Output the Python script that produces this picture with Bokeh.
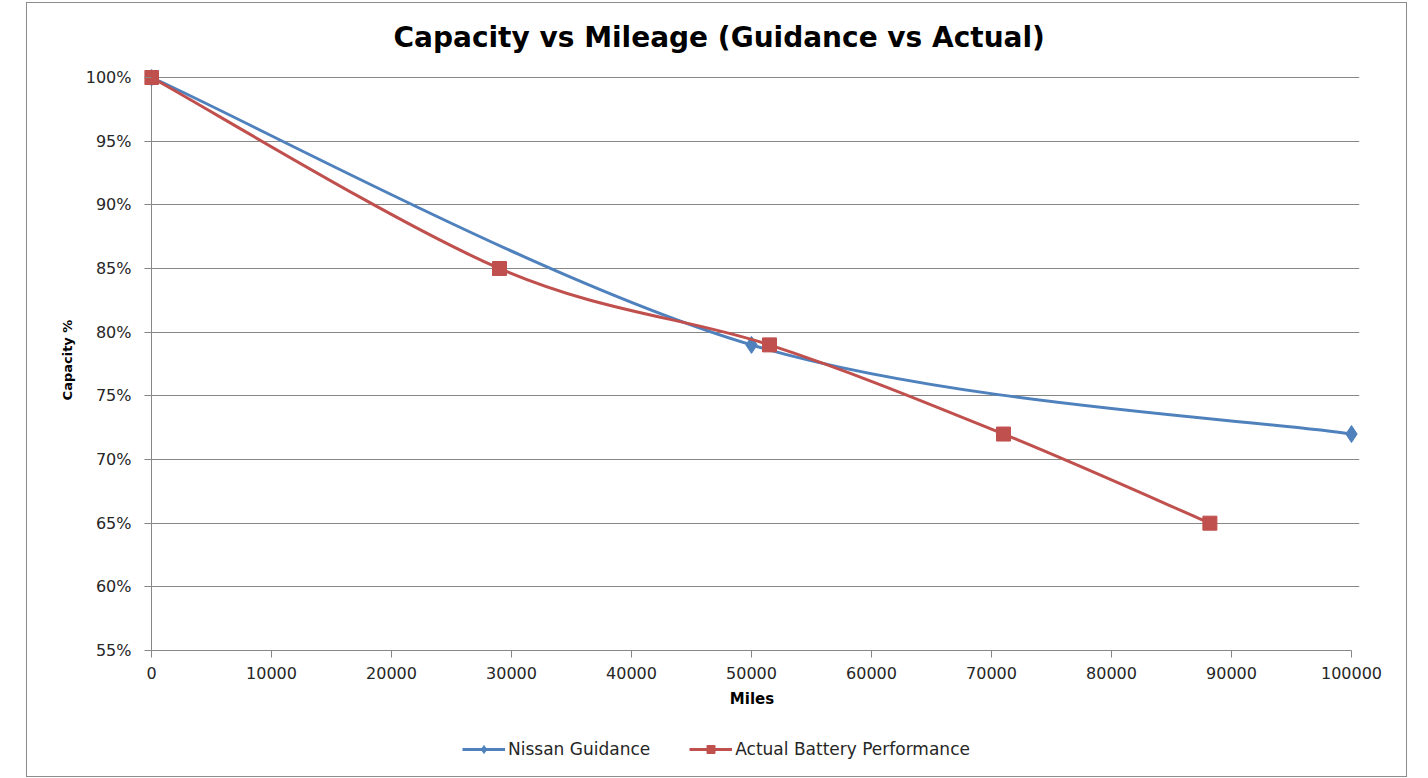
from bokeh.plotting import figure
from bokeh.layouts import column
from bokeh.models import (Range1d, SingleIntervalTicker, PrintfTickFormatter, BasicTickFormatter,
                          Legend, LegendItem, ColumnDataSource)
from bokeh.embed import file_html
from bokeh.resources import INLINE

# ---- data ----
nissan_miles = [0, 50000, 100000]
nissan_capacity = [100, 79, 72]
actual_miles = [0, 29000, 51500, 71000, 88200]
actual_capacity = [100, 85, 79, 72, 65]
series_names = ["Nissan Guidance", "Actual Battery Performance"]
title_text = "Capacity vs Mileage (Guidance vs Actual)"
x_min, x_max, x_step = 0, 100000, 10000
y_min, y_max, y_step = 55, 100, 5

BLUE = "#4F81BD"
RED = "#C0504D"
GRID = "#878787"
FONT = "DejaVu Sans"


def smooth_segments(xs, ys):
    """Catmull-Rom style bezier control points (Excel-like smoothing)."""
    n = len(xs)
    d = dict(x0=[], y0=[], x1=[], y1=[], cx0=[], cy0=[], cx1=[], cy1=[])
    for i in range(n - 1):
        xp, yp = (xs[i - 1], ys[i - 1]) if i > 0 else (xs[i], ys[i])
        xn2, yn2 = (xs[i + 2], ys[i + 2]) if i + 2 < n else (xs[i + 1], ys[i + 1])
        d["x0"].append(xs[i]); d["y0"].append(ys[i])
        d["x1"].append(xs[i + 1]); d["y1"].append(ys[i + 1])
        d["cx0"].append(xs[i] + (xs[i + 1] - xp) / 6.0)
        d["cy0"].append(ys[i] + (ys[i + 1] - yp) / 6.0)
        d["cx1"].append(xs[i + 1] - (xn2 - xs[i]) / 6.0)
        d["cy1"].append(ys[i + 1] - (yn2 - ys[i]) / 6.0)
    return ColumnDataSource(d)


# frame: 1200px for 100000 miles and 573px for 45%; pad a few px so edge markers are not cut
px_x = (x_max - x_min) / 1200.0
px_y = (y_max - y_min) / 573.0

p = figure(frame_width=1215, frame_height=581, output_backend="svg", toolbar_location=None,
           x_range=Range1d(x_min - 7 * px_x, x_max + 8 * px_x),
           y_range=Range1d(y_min, y_max + 8 * px_y),
           min_border_left=117, min_border_right=47, min_border_top=59, min_border_bottom=77)
p.outline_line_color = None
p.background_fill_color = "white"
p.border_fill_color = "white"

# title
p.title.text = title_text
p.title.align = "left"
p.title.offset = 249
p.title.standoff = 31
p.title.text_font = FONT
p.title.text_font_style = "bold"
p.title.text_font_size = "28px"
p.title.text_color = "black"

# axes
p.xaxis.ticker = SingleIntervalTicker(interval=x_step)
p.yaxis.ticker = SingleIntervalTicker(interval=y_step)
p.xaxis.formatter = BasicTickFormatter(use_scientific=False)
p.yaxis.formatter = PrintfTickFormatter(format="%d%%")
p.xaxis.bounds = (x_min, x_max)
p.yaxis.bounds = (y_min, y_max)
for ax in (p.xaxis, p.yaxis):
    ax.major_tick_line_color = GRID
    ax.minor_tick_line_color = None
    ax.major_label_text_font = FONT
    ax.major_label_text_font_size = "16px"
    ax.major_label_text_color = "#262626"
    ax.axis_label_text_font = FONT
    ax.axis_label_text_font_style = "bold"
    ax.axis_label_text_color = "black"
p.xaxis.axis_line_color = GRID
p.xaxis.major_tick_out = 7
p.xaxis.major_tick_in = 0
p.xaxis.major_label_standoff = 9
p.yaxis.axis_line_color = None
p.yaxis.major_tick_out = 0
p.yaxis.major_tick_in = 7
p.yaxis.major_label_standoff = 9
p.xaxis.axis_label = "Miles"
p.xaxis.axis_label_text_font_size = "15px"
p.xaxis.axis_label_standoff = 8
p.yaxis.axis_label = "Capacity %"
p.yaxis.axis_label_text_font_size = "13px"
p.yaxis.axis_label_standoff = 8

p.xgrid.grid_line_color = None
p.ygrid.grid_line_color = GRID
p.ygrid.grid_line_width = 1

# vertical value-axis line at x = 0, spanning the axis limits
p.segment(x0=[x_min], y0=[y_min], x1=[x_min], y1=[y_max], line_color=GRID, line_width=1)

# series
b_src = smooth_segments(nissan_miles, nissan_capacity)
r_src = smooth_segments(actual_miles, actual_capacity)

p.bezier(x0="x0", y0="y0", x1="x1", y1="y1", cx0="cx0", cy0="cy0", cx1="cx1", cy1="cy1",
         source=b_src, line_color=BLUE, line_width=3)
p.scatter(nissan_miles, nissan_capacity, marker="diamond", size=17, fill_color=BLUE, line_color=BLUE)
p.bezier(x0="x0", y0="y0", x1="x1", y1="y1", cx0="cx0", cy0="cy0", cx1="cx1", cy1="cy1",
         source=r_src, line_color=RED, line_width=3)
p.scatter(actual_miles, actual_capacity, marker="square", size=14, fill_color=RED, line_color=RED)

# ---- legend strip under the chart (its own small figure; its glyphs lie outside its view) ----
leg = figure(width=1379, height=49, output_backend="svg", toolbar_location=None,
             x_range=Range1d(-2, -1), y_range=Range1d(-2, -1),
             x_axis_type=None, y_axis_type=None,
             min_border_left=0, min_border_right=0, min_border_top=0, min_border_bottom=0)
leg.outline_line_color = None
leg.xgrid.visible = False
leg.ygrid.visible = False
lb_line = leg.line(nissan_miles, nissan_capacity, line_color=BLUE, line_width=3)
lb_mark = leg.scatter(nissan_miles, nissan_capacity, marker="diamond", size=12,
                      fill_color=BLUE, line_color=BLUE)
lr_line = leg.line(actual_miles, actual_capacity, line_color=RED, line_width=3)
lr_mark = leg.scatter(actual_miles, actual_capacity, marker="square", size=10,
                      fill_color=RED, line_color=RED)

legend = Legend(items=[LegendItem(label=series_names[0], renderers=[lb_line, lb_mark]),
                       LegendItem(label=series_names[1], renderers=[lr_line, lr_mark])],
                orientation="horizontal", location=(318, 17),
                border_line_color=None, background_fill_alpha=0,
                padding=0, margin=0, spacing=39, label_standoff=3,
                glyph_width=43, glyph_height=20, label_height=20,
                label_text_font=FONT, label_text_font_size="17px", label_text_color="#262626")
leg.add_layout(legend, "center")

layout = column(p, leg, spacing=0)
layout.margin = (2, 0, 0, 26)
layout.styles = {"border": "1px solid #8c8c8c", "background-color": "white"}

open("out.html", "w").write(file_html(layout, INLINE))
